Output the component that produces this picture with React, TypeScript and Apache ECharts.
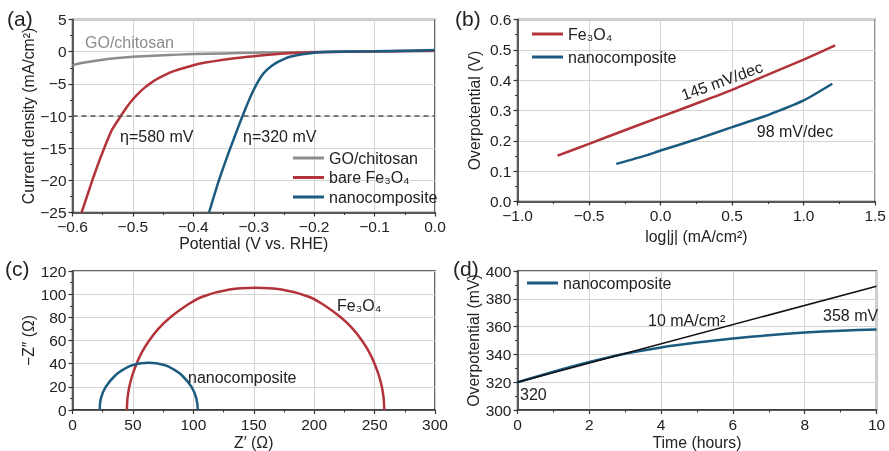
import React, { useEffect, useRef } from "react";
import * as echarts from "echarts";

const F = "'Liberation Sans', Arial, Helvetica, sans-serif";

// Panel (a) LSV
const goX = [-0.6, -0.58, -0.55, -0.52, -0.5, -0.45, -0.4, -0.35, -0.3, -0.25, -0.2, -0.15, -0.1, -0.05, 0];
const goY = [-2.1, -1.7, -1.25, -0.95, -0.8, -0.55, -0.38, -0.27, -0.18, -0.12, -0.07, -0.03, 0, 0.05, 0.1];
const feX = [-0.585, -0.575, -0.565, -0.555, -0.545, -0.535, -0.52, -0.51, -0.5, -0.49, -0.48, -0.47, -0.46, -0.45, -0.44, -0.43, -0.42, -0.4, -0.38, -0.35, -0.32, -0.3, -0.27, -0.25, -0.22, -0.2, -0.15, -0.1, -0.05, 0];
const feY = [-25, -22.2, -19.4, -16.8, -14.4, -12.2, -10, -8.6, -7.4, -6.4, -5.55, -4.85, -4.25, -3.75, -3.3, -2.95, -2.65, -2.1, -1.7, -1.25, -0.9, -0.7, -0.45, -0.3, -0.15, -0.08, 0, 0.05, 0.1, 0.15];
const ncX = [-0.374, -0.366, -0.358, -0.35, -0.342, -0.334, -0.326, -0.3185, -0.31, -0.302, -0.295, -0.288, -0.28, -0.27, -0.26, -0.25, -0.24, -0.22, -0.2, -0.17, -0.1, -0.05, 0];
const ncY = [-25, -22.5, -20.1, -17.9, -15.8, -13.8, -11.8, -10, -8, -6.3, -5, -3.9, -3, -2.2, -1.6, -1.15, -0.8, -0.4, -0.15, 0, 0.05, 0.15, 0.25];

// Panel (b) Tafel
const tfFeX = [-0.72, -0.5, -0.25, 0, 0.25, 0.5, 0.75, 1.0, 1.22];
const tfFeY = [0.151, 0.19, 0.235, 0.279, 0.323, 0.368, 0.418, 0.468, 0.515];
const tfNcX = [-0.31, -0.1, 0, 0.25, 0.5, 0.75, 1.0, 1.2];
const tfNcY = [0.124, 0.152, 0.168, 0.205, 0.245, 0.285, 0.333, 0.388];

// Panel (c) Nyquist
const nyFe = [
  [45, 0], [45.5, 10], [47, 20], [49.5, 30], [53, 40], [57.5, 50], [63.5, 60], [71, 70], [81, 80],
  [94, 90], [108, 98], [130, 104], [151.5, 105.5], [173, 104], [195, 98], [209, 90], [222, 80],
  [232, 70], [239.5, 60], [245.5, 50], [250, 40], [253.5, 30], [256, 20], [257.5, 10], [258, 0],
];
const nyNc = [
  [22.5, 0], [23.5, 10], [27.5, 20], [35.5, 30], [42.2, 35], [50, 38.8], [63, 40.7],
  [76, 38.8], [83.8, 35], [90.5, 30], [98.5, 20], [102.5, 10], [103.7, 0],
];

// Panel (d) stability
const stT = [0, 1, 2, 3, 4, 5, 6, 7, 8, 9, 10];
const stNc = [320, 327.5, 334.5, 340.5, 345, 348.5, 351.5, 353.8, 355.8, 357, 358];
const refT = [0, 10];
const refV = [320, 389];

const RED = "#b3333a";
const BLUE = "#1b5b80";
const GRAY = "#8c8c8c";
const INK = "#222";

const zip = (a: number[], b: number[]) => a.map((v, i) => [v, b[i]]);
const minus = (s: string) => s.replace("-", "\u2212");

function axis(gridIndex: number, min: number, max: number, interval: number, name: string, nameGap: number, dec: number) {
  return {
    type: "value",
    gridIndex,
    min,
    max,
    interval,
    name,
    nameLocation: "middle",
    nameGap,
    nameTextStyle: { fontFamily: F, fontSize: 15.8, color: INK },
    axisLine: { show: true, onZero: false, lineStyle: { color: "#333", width: 1.5 } },
    axisTick: { show: true, length: 4, lineStyle: { color: "#333", width: 1.2 } },
    minorTick: { show: true, splitNumber: 2, length: 2.5, lineStyle: { color: "#333", width: 1 } },
    splitLine: { show: true, lineStyle: { color: "#d4d4d4", width: 1 } },
    axisLabel: {
      show: true,
      fontFamily: F,
      fontSize: 15.5,
      color: INK,
      margin: 6,
      showMinLabel: true,
      showMaxLabel: true,
      formatter: (v: number) => minus(v.toFixed(dec)),
    },
  };
}

const lineSeries = (name: string, data: number[][], color: string, xi: number, width = 2.5, extra: any = {}) => ({
  type: "line",
  name,
  xAxisIndex: xi,
  yAxisIndex: xi,
  data,
  showSymbol: false,
  symbol: "none",
  smooth: 0.2,
  lineStyle: { color, width },
  itemStyle: { color },
  z: 3,
  ...extra,
});

const txt = (text: string, x: number, y: number, opts: any = {}) => ({
  type: "text",
  x,
  y,
  rotation: opts.rotation || 0,
  style: {
    text,
    fill: opts.fill || INK,
    font: `${opts.size || 16}px ${F}`,
    textAlign: opts.align || "left",
    textVerticalAlign: "middle",
  },
  z: 10,
});

const legendBase = {
  orient: "vertical",
  icon: "rect",
  itemWidth: 31,
  itemHeight: 3,
  itemGap: 1.5,
  selectedMode: false,
  textStyle: { fontFamily: F, fontSize: 16, color: INK, lineHeight: 18 },
};

export default function App() {
  const ref = useRef<HTMLDivElement>(null);
  useEffect(() => {
    if (!ref.current) return;
    const chart = echarts.init(ref.current, null, { renderer: "svg" });
    const gridStyle = { show: true, borderColor: "#333", borderWidth: 1.5, backgroundColor: "transparent" };
    chart.setOption({
      animation: false,
      textStyle: { fontFamily: F },
      grid: [
        { ...gridStyle, left: 72.5, top: 19.5, width: 362.5, height: 193 },
        { ...gridStyle, left: 517.5, top: 19.5, width: 360, height: 182 },
        { ...gridStyle, left: 72.5, top: 271, width: 362.5, height: 142 },
        { ...gridStyle, left: 517.5, top: 271, width: 359, height: 140 },
      ],
      xAxis: [
        axis(0, -0.6, 0, 0.1, "Potential (V vs. RHE)", 23, 1),
        axis(1, -1, 1.5, 0.5, "log|j| (mA/cm\u00b2)", 27, 1),
        axis(2, 0, 300, 50, "Z\u2032 (\u03a9)", 24, 0),
        axis(3, 0, 10, 2, "Time (hours)", 24, 0),
      ],
      yAxis: [
        axis(0, -25, 5, 5, "Current density (mA/cm\u00b2)", 35, 0),
        axis(1, 0, 0.6, 0.1, "Overpotential (V)", 35, 1),
        axis(2, 0, 120, 20, "\u2212Z\u2033 (\u03a9)", 35, 0),
        axis(3, 300, 400, 20, "Overpotential (mV)", 35, 0),
      ],
      legend: [
        { ...legendBase, data: ["GO/chitosan", "bare Fe\u2083O\u2084", "nanocomposite"], left: 288, top: 144 },
        { ...legendBase, data: ["Fe\u2083O\u2084", "nanocomposite"], left: 527, top: 20, itemGap: 5 },
        { ...legendBase, data: ["nanocomposite"], left: 522, top: 269 },
      ],
      series: [
        lineSeries("GO/chitosan", zip(goX, goY), GRAY, 0, 2.5, {
          markLine: {
            silent: true,
            symbol: "none",
            label: { show: false },
            lineStyle: { type: [5, 4], color: "#555", width: 1.5 },
            data: [{ yAxis: -10 }],
          },
        }),
        lineSeries("bare Fe\u2083O\u2084", zip(feX, feY), RED, 0, 2.5, { smooth: 0.15 }),
        lineSeries("nanocomposite", zip(ncX, ncY), BLUE, 0, 2.5, { smooth: 0.15 }),
        lineSeries("Fe\u2083O\u2084", zip(tfFeX, tfFeY), RED, 1),
        lineSeries("nanocomposite", zip(tfNcX, tfNcY), BLUE, 1),
        lineSeries("Fe\u2083O\u2084 EIS", nyFe, RED, 2, 2.5, { smooth: 0.4 }),
        lineSeries("nanocomposite EIS", nyNc, BLUE, 2, 2.5, { smooth: 0.4 }),
        lineSeries("nanocomposite", zip(stT, stNc), BLUE, 3),
        lineSeries("10 mA/cm\u00b2", zip(refT, refV), "#111", 3, 1.5, { smooth: false, z: 4 }),
      ],
      graphic: [
        txt("(a)", 7, 18, { size: 21 }),
        txt("(b)", 455, 18, { size: 21 }),
        txt("(c)", 5, 268, { size: 21 }),
        txt("(d)", 453, 268, { size: 21 }),
        txt("GO/chitosan", 85, 42, { fill: GRAY }),
        txt("\u03b7=580 mV", 120, 136),
        txt("\u03b7=320 mV", 243, 136),
        txt("145 mV/dec", 722, 81, { align: "center", rotation: 0.35 }),
        txt("98 mV/dec", 795, 131, { align: "center" }),
        txt("Fe\u2083O\u2084", 337, 305),
        txt("nanocomposite", 188, 377),
        txt("10 mA/cm\u00b2", 648, 320),
        txt("358 mV", 823, 315),
        txt("320", 520, 394),
      ],
    });
    return () => chart.dispose();
  }, []);
  return <div ref={ref} style={{ position: "fixed", left: 0, top: 0, width: 889, height: 451 }} />;
}
